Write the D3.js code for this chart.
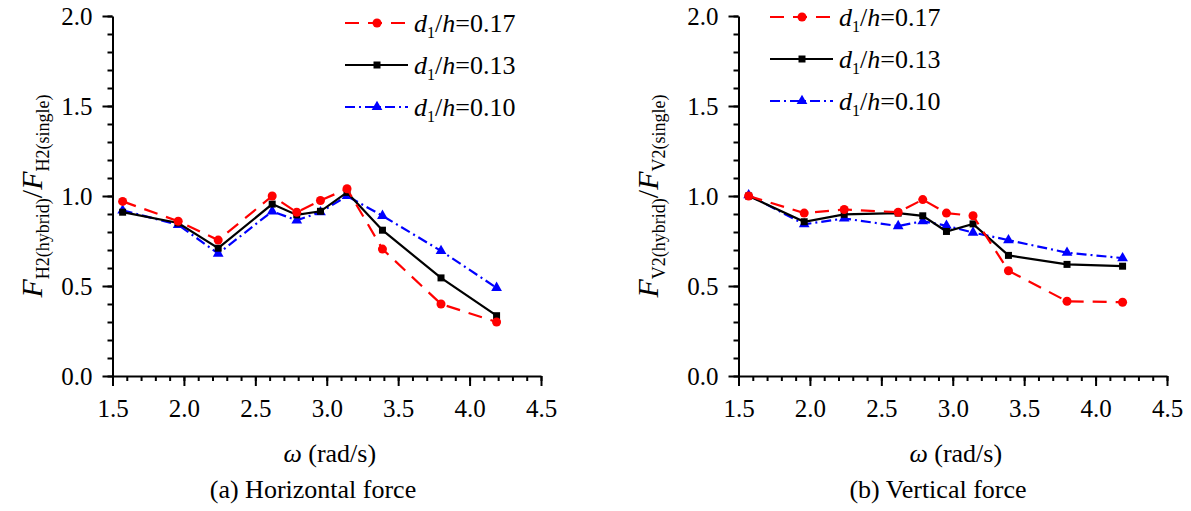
<!DOCTYPE html>
<html>
<head>
<meta charset="utf-8">
<script src="https://cdn.jsdelivr.net/npm/d3@7"></script>
<style>
  html, body { margin: 0; padding: 0; background: #fff; }
  svg { display: block; }
  svg text { font-family: "Liberation Serif", "Times New Roman", Times, Tinos, "DejaVu Serif", serif !important; }
</style>
</head>
<body>
<svg id="chart" width="1191" height="511"></svg>
<script>
// ─── Data ─────────────────────────────────────────────────────────────────────

const omega = [1.571, 1.96, 2.24, 2.618, 2.79, 2.956, 3.142, 3.39, 3.80, 4.189];

const seriesNames = ["0.17", "0.13", "0.10"];

// (a) horizontal force ratio
const hRed   = [0.97, 0.86, 0.755, 1.00, 0.91, 0.975, 1.04, 0.705, 0.40, 0.30];
const hBlack = [0.91, 0.85, 0.71, 0.955, 0.895, 0.915, 1.02, 0.81, 0.545, 0.335];
const hBlue  = [0.92, 0.84, 0.68, 0.915, 0.865, 0.91, 1.00, 0.89, 0.695, 0.49];

// (b) vertical force ratio
const vRed   = [1.00, 0.905, 0.925, 0.91, 0.98, 0.905, 0.89, 0.585, 0.415, 0.41];
const vBlack = [1.00, 0.857, 0.898, 0.905, 0.89, 0.803, 0.845, 0.67, 0.62, 0.61];
const vBlue  = [1.005, 0.843, 0.875, 0.833, 0.86, 0.835, 0.797, 0.755, 0.685, 0.655];

const xTicks = [1.5, 2.0, 2.5, 3.0, 3.5, 4.0, 4.5];
const yTicks = [0.0, 0.5, 1.0, 1.5, 2.0];

// ─── Styles ───────────────────────────────────────────────────────────────────

const STYLES = [
  { color: "#ff0000", dash: "14,9",       symbol: d3.symbolCircle,   size: 64 },
  { color: "#000000", dash: null,         symbol: d3.symbolSquare,   size: 49 },
  { color: "#0000ff", dash: "10,4,2,4",   symbol: d3.symbolTriangle, size: 50 },
];

const svg = d3.select("#chart");

// ─── Panel ────────────────────────────────────────────────────────────────────

function drawPanel(cfg) {
  const x = d3.scaleLinear().domain([1.5, 4.5]).range([cfg.x0, cfg.x1]);
  const y = d3.scaleLinear().domain([0, 2]).range([376, 16]);
  const g = svg.append("g");

  // minor ticks
  const minorX = d3.range(15, 46).map(v => v / 10);
  const minorY = d3.range(0, 21).map(v => v / 10);
  g.append("g").attr("transform", "translate(0,376)")
    .call(d3.axisBottom(x).tickValues(minorX).tickSize(5).tickSizeOuter(0).tickFormat(""))
    .call(a => a.select(".domain").remove());
  g.append("g").attr("transform", `translate(${cfg.x0},0)`)
    .call(d3.axisLeft(y).tickValues(minorY).tickSize(5).tickSizeOuter(0).tickFormat(""))
    .call(a => a.select(".domain").remove());

  // major axes
  const xa = g.append("g").attr("transform", "translate(0,376)")
    .call(d3.axisBottom(x).tickValues(xTicks).tickSize(10).tickSizeOuter(0)
      .tickPadding(13).tickFormat(d3.format(".1f")));
  const ya = g.append("g").attr("transform", `translate(${cfg.x0},0)`)
    .call(d3.axisLeft(y).tickValues(yTicks).tickSize(10).tickSizeOuter(0)
      .tickPadding(10).tickFormat(d3.format(".1f")));

  [xa, ya].forEach(a => {
    a.attr("font-family", null);
    a.selectAll("path, line").attr("stroke", "#000").attr("stroke-width", 2);
    a.selectAll("text").attr("font-size", 25).attr("fill", "#000");
  });
  g.selectAll(".tick line").attr("stroke", "#000").attr("stroke-width", 2);

  // series: draw blue, black, red (red on top)
  [2, 1, 0].forEach(i => {
    const st = STYLES[i];
    const vals = cfg.series[i];
    const pts = omega.map((w, k) => [x(w), y(vals[k])]);
    g.append("path")
      .attr("d", d3.line()(pts))
      .attr("fill", "none")
      .attr("stroke", st.color)
      .attr("stroke-width", 2.2)
      .attr("stroke-dasharray", st.dash);
    g.selectAll(null).data(pts).join("path")
      .attr("transform", d => `translate(${d[0]},${d[1]})`)
      .attr("d", d3.symbol().type(st.symbol).size(st.size))
      .attr("fill", st.color);
  });

  // legend
  seriesNames.forEach((name, i) => {
    const st = STYLES[i];
    const ly = cfg.legY + i * 42;
    g.append("line")
      .attr("x1", cfg.legX).attr("x2", cfg.legX + 63)
      .attr("y1", ly).attr("y2", ly)
      .attr("stroke", st.color).attr("stroke-width", 2.2)
      .attr("stroke-dasharray", st.dash);
    g.append("path")
      .attr("transform", `translate(${cfg.legX + 32},${ly})`)
      .attr("d", d3.symbol().type(st.symbol).size(st.size))
      .attr("fill", st.color);
    const t = g.append("text")
      .attr("x", cfg.legX + 69).attr("y", ly + 9)
      .attr("font-size", 26);
    t.append("tspan").attr("font-style", "italic").text("d");
    t.append("tspan").attr("font-size", 16).attr("dy", 6).text("1");
    t.append("tspan").attr("dy", -6).text("/");
    t.append("tspan").attr("font-style", "italic").text("h");
    t.append("tspan").text("=" + name);
  });

  // y label
  const yl = g.append("text")
    .attr("transform", `translate(${cfg.yLabX},196) rotate(-90)`)
    .attr("text-anchor", "middle")
    .attr("font-size", 30);
  yl.append("tspan").attr("font-style", "italic").text("F");
  yl.append("tspan").attr("font-size", 18).attr("dy", 7).text(cfg.sub + "(hybrid)");
  yl.append("tspan").attr("dy", -7).text("/");
  yl.append("tspan").attr("font-style", "italic").text("F");
  yl.append("tspan").attr("font-size", 18).attr("dy", 7).text(cfg.sub + "(single)");

  // x label
  const xl = g.append("text")
    .attr("x", (cfg.x0 + cfg.x1) / 2 + 3).attr("y", 462)
    .attr("text-anchor", "middle").attr("font-size", 26);
  xl.append("tspan").attr("font-style", "italic").text("ω");
  xl.append("tspan").text(" (rad/s)");

  // caption
  g.append("text")
    .attr("x", cfg.capX).attr("y", 498)
    .attr("text-anchor", "middle").attr("font-size", 26)
    .text(cfg.caption);
}

drawPanel({
  x0: 112.5, x1: 541, series: [hRed, hBlack, hBlue],
  legX: 345, legY: 23, yLabX: 42, sub: "H2",
  capX: 313, caption: "(a) Horizontal force",
});

drawPanel({
  x0: 738.5, x1: 1167, series: [vRed, vBlack, vBlue],
  legX: 770, legY: 17, yLabX: 658, sub: "V2",
  capX: 938, caption: "(b) Vertical force",
});
</script>
</body>
</html>
